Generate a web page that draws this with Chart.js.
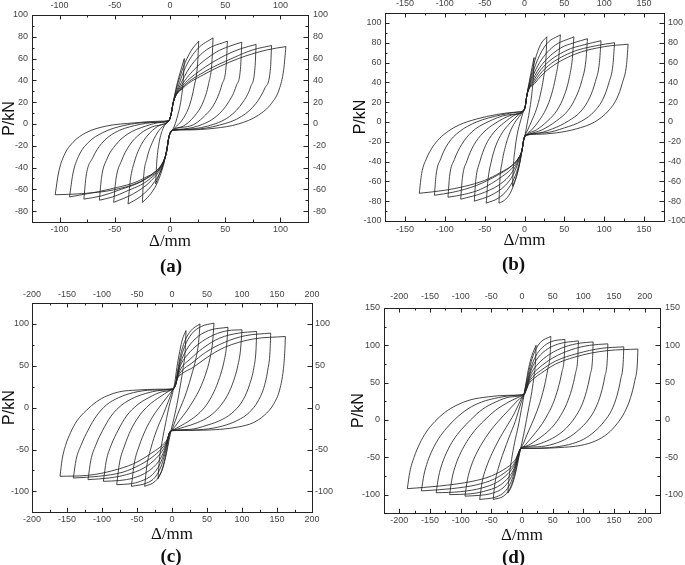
<!DOCTYPE html>
<html><head><meta charset="utf-8">
<script src="https://cdn.jsdelivr.net/npm/chart.js@4.4.1/dist/chart.umd.min.js"></script>
<style>
html,body{margin:0;padding:0;background:#fff;}
body{width:685px;height:565px;overflow:hidden;position:relative;}
canvas{position:absolute;}
</style></head>
<body>
<canvas id="ca" width="342" height="282" style="left:0px;top:0px;width:342px;height:282px"></canvas>
<canvas id="cb" width="343" height="282" style="left:342px;top:0px;width:343px;height:282px"></canvas>
<canvas id="cc" width="342" height="286" style="left:0px;top:282px;width:342px;height:286px"></canvas>
<canvas id="cd" width="343" height="286" style="left:342px;top:282px;width:343px;height:286px"></canvas>
<script>
// ---------- tick labels ----------
const aXTicks = [-100,-50,0,50,100];
const aYTicks = [-80,-60,-40,-20,0,20,40,60,80,100];
const bXTicks = [-150,-100,-50,0,50,100,150];
const bYTicks = [-100,-80,-60,-40,-20,0,20,40,60,80,100];
const cXTicks = [-200,-150,-100,-50,0,50,100,150,200];
const cYTicks = [-100,-50,0,50,100];
const dXTicks = [-200,-150,-100,-50,0,50,100,150,200];
const dYTicks = [-100,-50,0,50,100,150];
const panelLabels = ['(a)','(b)','(c)','(d)'];

// ---------- (a) loops: reloading branch (neg. peak -> pos. peak) and unloading branch (pos. peak -> neg. peak) ----------
const aReload = [
 [[-13,-55],[-12,-35],[-10,-18],[-7,-6],[-4,0],[-1,3],[1,9],[3,20],[6,35],[10,50],[13,60]],
 [[-25,-72],[-24,-50],[-21,-32],[-16,-17],[-10,-6],[-4,0],[-1,3],[1,9],[3,20],[6,33],[12,52],[19,67],[26,76]],
 [[-38,-73.5],[-36,-52],[-32,-34],[-26,-19],[-18,-8],[-9,-1],[-1,3],[1,9],[3,20],[7,33],[14,52],[25,69],[39,79]],
 [[-51,-72],[-49,-51],[-44,-34],[-37,-20],[-27,-9],[-14,-2],[-1,3],[1,9],[3,20],[8,33],[18,52],[33,68],[52,76]],
 [[-64,-70],[-62,-49],[-57,-32],[-49,-19],[-38,-9],[-22,-2],[-8,1.5],[-1,3],[1,9],[3,20],[9,33],[22,50],[42,66],[53,71],[65,75]],
 [[-78,-69],[-76,-48],[-70,-31],[-62,-18],[-50,-8],[-32,-1.5],[-12,1.5],[-1,3],[1,9],[3,20],[10,33],[26,48],[50,63],[64,69],[78,73]],
 [[-91,-67],[-88,-46],[-83,-30],[-74,-17],[-61,-8],[-42,-1.5],[-18,1.5],[-1,3],[1,9],[3,20],[11,33],[28,46],[58,61],[75,68],[92,72]],
 [[-104,-65],[-101,-45],[-96,-29],[-88,-17],[-76,-8],[-58,-2],[-32,1],[-10,2.5],[-1,3],[1,9],[3,20],[12,33],[30,45],[62,60],[88,68],[105,71]]
];
const aUnload = [
 [[13,60],[12,40],[10,22],[7,8],[4,-2],[2,-6],[-1,-12],[-3,-24],[-6,-36],[-10,-47],[-13,-55]],
 [[26,76],[25,55],[22,35],[18,18],[12,5],[6,-2],[2,-6],[-1,-12],[-3,-24],[-6,-38],[-12,-55],[-19,-66],[-25,-72]],
 [[39,79],[38,57],[35,37],[30,20],[22,7],[12,-2],[2,-6],[-1,-12],[-3,-24],[-6,-37],[-14,-53],[-26,-66],[-38,-73.5]],
 [[52,76],[51,55],[47,36],[41,20],[31,7],[18,-2],[2,-6],[-1,-12],[-3,-25],[-7,-38],[-17,-52],[-33,-64],[-51,-72]],
 [[65,75],[64,53],[60,35],[53,20],[42,7],[25,-2],[8,-5],[2,-6],[-1,-12],[-3,-25],[-7,-37],[-19,-51],[-40,-62],[-52,-67],[-64,-70]],
 [[78,73],[77,52],[73,34],[66,20],[54,7],[34,-2],[12,-5],[2,-6],[-1,-12],[-3,-25],[-7,-37],[-21,-50],[-47,-61],[-62,-66],[-78,-69]],
 [[92,72],[91,51],[86,33],[78,19],[65,7],[45,-1],[20,-5],[2,-6],[-1,-12],[-3,-25],[-7,-36],[-24,-50],[-55,-60],[-75,-64],[-91,-67]],
 [[105,71],[103,50],[99,32],[92,19],[80,8],[62,0],[40,-4],[15,-5.5],[2,-6],[-1,-12],[-3,-25],[-6,-35],[-15,-45],[-27,-53],[-51,-60.5],[-80,-64],[-104,-65]]
];

// ---------- (b) ----------
const bReload = [
 [[-15,-65],[-14,-45],[-12,-28],[-9,-12],[-5,1],[-2,9],[-1,11.5],[1,16],[3,27],[7,45],[12,65]],
 [[-32,-82],[-31,-60],[-28,-40],[-23,-22],[-17,-8],[-10,2],[-4,8],[-1,11.5],[1,16],[3,27],[7,42],[13,62],[20,78],[28,86]],
 [[-48,-82],[-46,-60],[-42,-41],[-36,-24],[-28,-11],[-18,-1],[-8,7],[-1,11.5],[1,16],[3,27],[8,43],[16,62],[28,79],[45,88]],
 [[-63,-80],[-61,-58],[-56,-40],[-49,-24],[-39,-11],[-26,-1],[-12,7],[-1,11.5],[1,16],[3,27],[9,43],[19,60],[36,76],[62,86]],
 [[-80,-78],[-78,-57],[-72,-39],[-64,-24],[-52,-11],[-36,-1],[-16,7],[-1,11.5],[1,16],[3,27],[10,42],[22,58],[44,74],[62,80],[79,84]],
 [[-96,-76],[-94,-55],[-88,-38],[-79,-23],[-66,-10],[-46,0],[-22,7],[-1,11.5],[1,16],[3,27],[11,41],[24,56],[52,72],[75,78],[96,82]],
 [[-113,-74],[-111,-54],[-105,-37],[-96,-22],[-82,-10],[-60,0],[-30,7],[-8,10],[-1,11.5],[1,16],[3,27],[12,40],[26,54],[58,70],[90,77],[113,80]],
 [[-132,-72],[-129,-52],[-123,-37],[-115,-25],[-107,-17],[-95,-9],[-82,-3],[-60,3],[-35,7.5],[-10,10],[-1,11.5],[1,16],[3,27],[13,39],[28,52],[62,68],[100,76],[130,78.5]]
];
const bUnload = [
 [[12,65],[11,45],[9,27],[6,10],[3,-3],[1,-12],[-1,-18],[-3,-28],[-6,-42],[-10,-55],[-15,-65]],
 [[28,86],[27,65],[24,45],[20,28],[15,13],[9,1],[4,-8],[1,-13],[-1,-18],[-3,-28],[-7,-45],[-12,-60],[-18,-72],[-25,-79],[-32,-82]],
 [[45,88],[43,65],[39,45],[34,28],[27,13],[18,1],[9,-8],[2,-13],[-1,-18],[-3,-28],[-7,-43],[-13,-57],[-22,-69],[-33,-77],[-48,-82]],
 [[62,86],[60,64],[56,44],[50,27],[41,12],[29,1],[15,-8],[3,-13],[-1,-18],[-3,-28],[-8,-41],[-14,-53],[-24,-64],[-42,-74],[-63,-80]],
 [[79,84],[77,62],[72,42],[65,26],[55,12],[40,1],[22,-8],[5,-13],[-1,-18],[-3,-28],[-8,-39],[-15,-50],[-26,-60],[-50,-71],[-80,-78]],
 [[96,82],[94,60],[89,41],[82,25],[71,11],[55,1],[35,-7],[12,-12],[1,-13.5],[-1,-18],[-3,-28],[-8,-38],[-16,-47],[-28,-55],[-55,-68],[-75,-73],[-96,-76]],
 [[113,80],[111,58],[106,40],[99,24],[88,11],[72,1],[50,-6],[25,-11],[1,-13.5],[-1,-18],[-3,-28],[-8,-37],[-17,-45],[-30,-52],[-60,-64],[-90,-71],[-113,-74]],
 [[130,78.5],[128,58],[123,40],[116,24],[105,11],[88,0],[65,-7],[40,-11],[15,-12.5],[1,-13.5],[-1,-18],[-3,-28],[-8,-37],[-16,-44],[-30,-51],[-50,-59],[-75,-65],[-100,-69],[-132,-72]]
];

// ---------- (c) ----------
const cReload = [
 [[-20,-85],[-18,-62],[-14,-40],[-9,-18],[-4,2],[1,18],[4,30],[7,48],[11,67],[15,82],[20,92]],
 [[-39,-94],[-36,-70],[-30,-48],[-22,-27],[-13,-9],[-5,8],[1,21],[5,29],[8,44],[12,62],[18,79],[27,92],[40,100]],
 [[-58,-94],[-54,-67],[-47,-46],[-38,-27],[-27,-10],[-15,4],[-4,16],[2,22.5],[5,28],[8,41],[12,57],[18,73],[28,88],[42,97],[60,101]],
 [[-79,-92],[-75,-66],[-68,-46],[-59,-27],[-47,-10],[-33,3],[-17,13],[-4,20],[2,22.5],[5,27],[8,39],[12,53],[20,68],[33,82],[52,92],[80,96]],
 [[-98,-88],[-94,-64],[-87,-45],[-77,-27],[-65,-10],[-50,3],[-33,12],[-14,19],[2,22.5],[5,27],[8,38],[12,50],[22,63],[38,76],[60,87],[80,92],[100,93]],
 [[-120,-86],[-116,-63],[-109,-45],[-99,-27],[-87,-10],[-72,3],[-54,12],[-33,18],[-12,21],[2,22.5],[5,27],[8,37],[13,47],[26,58],[44,71],[68,83],[95,89],[121,91]],
 [[-141,-84],[-137,-62],[-130,-45],[-120,-27],[-108,-10],[-94,3],[-76,12],[-55,18],[-28,21],[2,22.5],[5,27],[8,36],[14,44],[28,53],[48,66],[75,78],[105,86],[141,89]],
 [[-160,-82],[-157,-62],[-152,-45],[-145,-30],[-136,-16],[-122,-3],[-108,7],[-93,14],[-75,19],[-50,21],[-20,22],[2,22.5],[5,27],[8,35],[15,41],[30,48],[50,60],[75,72],[116,82],[162,85]]
];
const cUnload = [
 [[20,92],[19,70],[16,48],[12,27],[8,8],[3,-12],[-1,-26],[-4,-38],[-8,-55],[-13,-72],[-20,-85]],
 [[40,100],[38,78],[34,58],[28,39],[22,22],[15,6],[8,-8],[2,-22],[-1,-27.5],[-4,-34],[-7,-48],[-11,-64],[-16,-78],[-24,-88],[-39,-94]],
 [[60,101],[58,78],[54,58],[48,40],[40,23],[31,9],[21,-4],[11,-15],[3,-24],[-1,-27.5],[-4,-32],[-7,-44],[-11,-58],[-16,-71],[-24,-83],[-36,-90],[-58,-94]],
 [[80,96],[78,74],[74,54],[68,36],[60,19],[49,3],[37,-8],[24,-16],[12,-22],[3,-26],[-1,-27.5],[-4,-31],[-7,-42],[-11,-54],[-17,-67],[-28,-80],[-45,-88],[-60,-91],[-79,-92]],
 [[100,93],[98,70],[94,50],[88,32],[80,16],[68,1],[54,-10],[36,-18],[18,-23],[6,-26],[-1,-27.5],[-4,-31],[-7,-41],[-11,-51],[-19,-64],[-34,-76],[-55,-84],[-75,-87],[-98,-88]],
 [[121,91],[120,69],[117,48],[111,28],[102,10],[89,-4],[72,-14],[50,-21],[25,-26],[-1,-27.5],[-4,-31],[-7,-40],[-12,-49],[-22,-60],[-40,-72],[-65,-80],[-90,-84],[-120,-86]],
 [[141,89],[140,67],[137,46],[132,26],[123,8],[110,-6],[94,-15],[72,-22],[45,-26],[15,-27],[-1,-27.5],[-4,-31],[-7,-39],[-13,-47],[-25,-57],[-45,-68],[-70,-77],[-105,-82],[-141,-84]],
 [[162,85],[161,65],[159,45],[154,22],[145,4],[132,-9],[116,-18],[95,-23],[68,-26],[35,-27],[-1,-27.5],[-4,-31],[-7,-38],[-14,-45],[-27,-53],[-50,-65],[-75,-73],[-122,-81],[-160,-82]]
];

// ---------- (d) ----------
const dReload = [
 [[-23,-98],[-21,-76],[-17,-53],[-12,-30],[-6,-8],[-1,14],[3,32],[7,52],[11,70],[16,86],[23,100]],
 [[-47,-106.5],[-44,-84],[-38,-63],[-30,-43],[-21,-23],[-11,-2],[-2,22],[3,34],[7,49],[11,64],[15,78],[21,92],[30,104],[47,112]],
 [[-69,-106.5],[-65,-83],[-58,-63],[-49,-45],[-38,-27],[-26,-10],[-13,8],[-2,27],[3,34],[7,46],[11,59],[15,71],[22,85],[33,97],[48,105],[70,108]],
 [[-93,-102],[-89,-80],[-83,-62],[-75,-46],[-65,-31],[-53,-16],[-39,-2],[-22,13],[-6,27],[3,34],[7,44],[11,56],[15,67],[23,80],[38,93],[60,102],[92,106]],
 [[-118,-100],[-114,-78],[-108,-60],[-100,-44],[-90,-29],[-77,-14],[-62,-1],[-43,13],[-22,24],[-4,31],[3,34],[7,43],[11,54],[16,64],[26,75],[45,88],[70,98],[95,103],[116,104.5]],
 [[-140,-97.5],[-136,-76],[-130,-58],[-122,-42],[-112,-27],[-99,-13],[-84,0],[-65,14],[-43,24],[-18,31],[3,34],[7,42],[11,52],[17,61],[28,70],[50,83],[80,94],[110,100],[140,102]],
 [[-164,-95],[-160,-74],[-154,-56],[-146,-40],[-136,-25],[-123,-11],[-108,2],[-88,15],[-66,24],[-38,30],[-10,33],[3,34],[7,41],[11,50],[18,58],[30,66],[55,79],[90,89],[130,96],[166,98]],
 [[-187,-92],[-183,-70],[-176,-50],[-167,-32],[-156,-16],[-142,-2],[-126,10],[-106,20],[-84,27],[-55,31],[-25,33],[3,34],[7,40],[11,48],[20,56],[30,62],[55,75],[85,84],[112,89.5],[140,93],[189,95]]
];
const dUnload = [
 [[23,100],[22,78],[19,55],[15,33],[10,12],[5,-10],[0,-30],[-4,-45],[-8,-62],[-12,-76],[-17,-89],[-23,-98]],
 [[47,112],[46,90],[42,68],[37,47],[31,28],[24,11],[16,-5],[8,-20],[2,-32],[-2,-38],[-6,-51],[-10,-66],[-14,-79],[-20,-92],[-30,-102],[-47,-106.5]],
 [[70,108],[69,86],[65,64],[59,43],[52,25],[43,9],[33,-5],[22,-17],[11,-28],[2,-36],[-2,-38],[-6,-49],[-10,-62],[-14,-74],[-19,-85],[-28,-96],[-42,-103],[-69,-106.5]],
 [[92,106],[91,84],[87,62],[81,41],[73,22],[63,6],[51,-8],[37,-19],[22,-28],[7,-35],[-2,-38],[-6,-48],[-10,-60],[-14,-70],[-20,-80],[-31,-91],[-48,-98],[-70,-101],[-93,-102]],
 [[116,104.5],[115,82],[111,60],[105,38],[97,19],[86,3],[72,-11],[55,-22],[35,-30],[14,-35],[-2,-38],[-6,-47],[-10,-58],[-14,-67],[-21,-76],[-35,-87],[-55,-94],[-85,-99],[-118,-100]],
 [[140,102],[139,80],[135,58],[129,36],[120,16],[108,0],[93,-13],[75,-24],[52,-32],[25,-36],[-2,-38],[-6,-46],[-10,-56],[-15,-64],[-23,-72],[-40,-83],[-65,-91],[-100,-96],[-140,-97.5]],
 [[166,98],[165,77],[161,55],[155,33],[146,13],[134,-2],[119,-15],[100,-26],[76,-33],[45,-37],[10,-38],[-2,-38],[-6,-45],[-10,-54],[-15,-61],[-24,-68],[-45,-79],[-75,-87],[-115,-92],[-164,-95]],
 [[189,95],[188,75],[184,53],[177,30],[167,10],[155,-5],[140,-18],[120,-28],[96,-34],[60,-37],[25,-38],[-2,-38],[-6,-44],[-10,-52],[-16,-58],[-25,-64],[-50,-75],[-80,-82],[-135,-88.5],[-187,-92]]
];

// ---------- layout / styling ----------
const panels = [
 {id:'ca', rel:aReload, unl:aUnload, xr:[-125,125], yr:[-90,100], xt:aXTicks, yt:aYTicks, xm:25, ym:10, label:panelLabels[0],
  L:32, R:34, T:15, B:35.5, tb:5.5, pb:5.3, pt:0, tp:3.6, bp:2, lp:4, rp:5},
 {id:'cb', rel:bReload, unl:bUnload, xr:[-175,175], yr:[-100,110], xt:bXTicks, yt:bYTicks, xm:25, ym:10, label:panelLabels[1],
  L:43, R:21, T:13, B:34.5, tb:7.5, pb:4.6, pt:8.5, tp:3.6, bp:3.6, lp:3.5, rp:4},
 {id:'cc', rel:cReload, unl:cUnload, xr:[-200,200], yr:[-125,125], xt:cXTicks, yt:cYTicks, xm:25, ym:25, label:panelLabels[2],
  L:32, R:30, T:21, B:34.9, tb:1.8, pb:2, pt:0, tp:2.6, bp:1.6, lp:3, rp:3},
 {id:'cd', rel:dReload, unl:dUnload, xr:[-225,225], yr:[-125,150], xt:dXTicks, yt:dYTicks, xm:25, ym:25, label:panelLabels[3],
  L:42, R:25, T:26, B:35.2, tb:0.5, pb:2.3, pt:6.5, tp:5.6, bp:2, lp:4, rp:5}
];

const inTicks = {
  id:'inTicks',
  afterDraw(chart, args, o){
    const {ctx, chartArea:a, scales} = chart;
    const sx = scales.x, sy = scales.y;
    ctx.save();
    ctx.strokeStyle = '#222'; ctx.lineWidth = 1;
    ctx.beginPath();
    const isMajor = (arr, v) => arr.some(t => Math.abs(t - v) < 1e-6);
    for (let v = Math.ceil(sx.min / o.xm) * o.xm; v <= sx.max + 1e-9; v += o.xm) {
      const p = Math.round(sx.getPixelForValue(v)) + 0.5;
      if (p <= a.left + 1 || p >= a.right - 1) continue;
      const len = isMajor(o.xt, v) ? 4.5 : 2.5;
      ctx.moveTo(p, a.bottom); ctx.lineTo(p, a.bottom - len);
      ctx.moveTo(p, a.top); ctx.lineTo(p, a.top + len);
    }
    for (let v = Math.ceil(sy.min / o.ym) * o.ym; v <= sy.max + 1e-9; v += o.ym) {
      const p = Math.round(sy.getPixelForValue(v)) + 0.5;
      if (p <= a.top + 1 || p >= a.bottom - 1) continue;
      const len = isMajor(o.yt, v) ? 4.5 : 2.5;
      ctx.moveTo(a.left, p); ctx.lineTo(a.left + len, p);
      ctx.moveTo(a.right, p); ctx.lineTo(a.right - len, p);
    }
    ctx.stroke();
    ctx.restore();
  }
};

const tickFont = {family:'Liberation Sans, Arial, sans-serif', size:9};
function axis(pos, rng, ticks, pad, sizeFn, title) {
  const cfg = {
    type:'linear', position:pos, min:rng[0], max:rng[1],
    grid:{display:false, drawTicks:false},
    border:{display:true, color:'#222', width:1},
    ticks:{font:tickFont, color:'#444', padding:pad, maxRotation:0, autoSkip:false},
    afterBuildTicks: s => { s.ticks = ticks.map(v => ({value:v})); },
    afterFit: sizeFn
  };
  if (title) cfg.title = title;
  return cfg;
}

function lineDs(points) {
  return {data:points, showLine:true, borderColor:'#262626', borderWidth:0.85,
          pointRadius:0, pointHoverRadius:0, fill:false, cubicInterpolationMode:'monotone'};
}

panels.forEach(p => {
  const datasets = [];
  p.rel.forEach(seg => datasets.push(lineDs(seg)));
  p.unl.forEach(seg => datasets.push(lineDs(seg)));
  new Chart(document.getElementById(p.id), {
    type:'scatter',
    data:{datasets},
    plugins:[inTicks],
    options:{
      responsive:false, animation:false, devicePixelRatio:1, events:[],
      layout:{padding:0, autoPadding:false},
      plugins:{
        legend:{display:false}, tooltip:{enabled:false},
        title:{display:true, position:'bottom', text:p.label, color:'#111',
               font:{family:'Liberation Serif, Times New Roman, serif', size:19, weight:'bold', lineHeight:1},
               padding:{top:0, bottom:p.tb}},
        inTicks:{xt:p.xt, yt:p.yt, xm:p.xm, ym:p.ym}
      },
      scales:{
        x: axis('bottom', p.xr, p.xt, p.bp, s => { s.height = p.B; },
             {display:true, text:'\u0394/mm', color:'#111',
              font:{family:'Liberation Serif, Times New Roman, serif', size:17}, padding:{top:0, bottom:p.pb}}),
        x2: axis('top', p.xr, p.xt, p.tp, s => { s.height = p.T; }),
        y: axis('left', p.yr, p.yt, p.lp, s => { s.width = p.L; },
             {display:true, text:'P/kN', color:'#111',
              font:{family:'Liberation Sans, Arial, sans-serif', size:16}, padding:{top:p.pt, bottom:0}}),
        y2: axis('right', p.yr, p.yt, p.rp, s => { s.width = p.R; })
      }
    }
  });
});
</script>
</body></html>
